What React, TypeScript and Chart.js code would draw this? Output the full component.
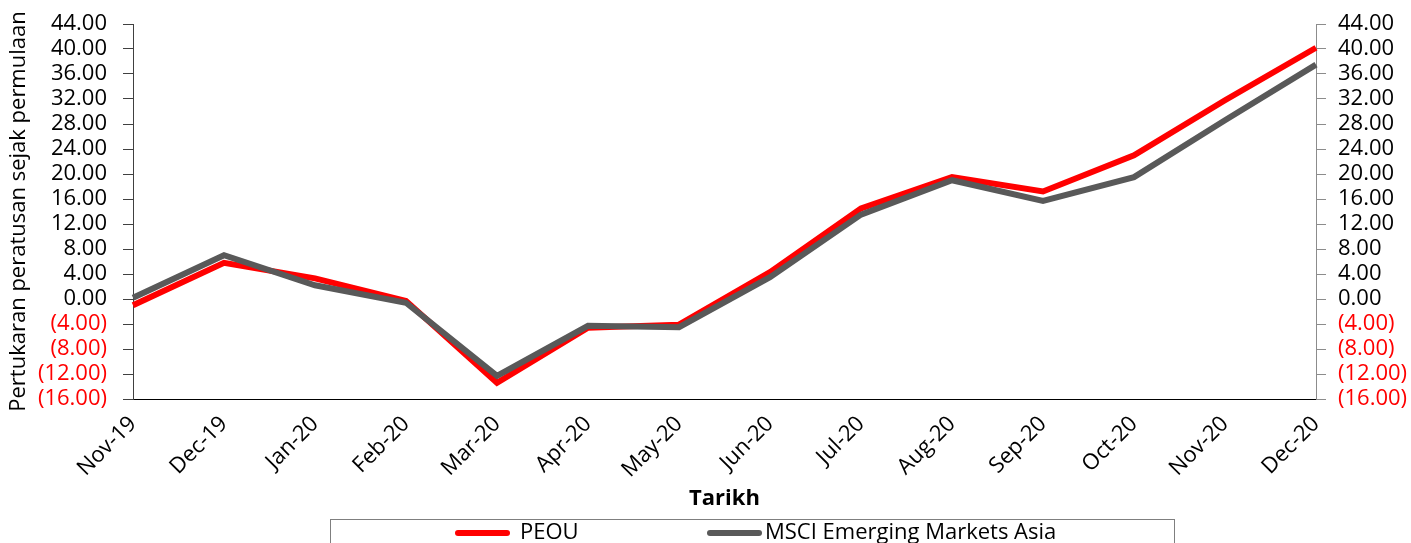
import { useEffect, useRef } from "react";
import { Chart, registerables } from "chart.js";

Chart.register(...registerables);

const categories = ["Nov-19", "Dec-19", "Jan-20", "Feb-20", "Mar-20", "Apr-20", "May-20", "Jun-20", "Jul-20", "Aug-20", "Sep-20", "Oct-20", "Nov-20", "Dec-20"];
const peou = [-1.0, 5.8, 3.3, -0.3, -13.4, -4.6, -4.1, 4.3, 14.5, 19.5, 17.2, 23.0, 31.8, 40.2];
const msci = [0.2, 7.0, 2.2, -0.6, -12.3, -4.3, -4.5, 3.5, 13.5, 19.0, 15.7, 19.5, 28.6, 37.5];
const seriesLabels = ["PEOU", "MSCI Emerging Markets Asia"];
const seriesColors = ["#ff0000", "#595959"];
const yMin = -16;
const yMax = 44;
const yStep = 4;
const xTitle = "Tarikh";
const yTitle = "Pertukaran peratusan sejak permulaan";

const FONT = "'Open Sans', sans-serif";

const fmt = (v: number | string) => {
  const n = Number(v);
  return n < 0 ? `(${Math.abs(n).toFixed(2)})` : n.toFixed(2);
};
const tickColor = (ctx: any) => (ctx.tick && ctx.tick.value < 0 ? "#ff0000" : "#000000");

const boxLegend = {
  id: "boxLegend",
  afterDraw(chart: any) {
    const ctx = chart.ctx as CanvasRenderingContext2D;
    ctx.save();
    ctx.strokeStyle = "#7f7f7f";
    ctx.lineWidth = 1;
    ctx.strokeRect(330.5, 519.5, 844, 60);
    ctx.font = `22px ${FONT}`;
    ctx.textBaseline = "middle";
    ctx.textAlign = "left";
    const starts = [455, 707];
    const gaps = [10, 3];
    chart.data.datasets.forEach((ds: any, i: number) => {
      const x = starts[i];
      const y = 533;
      ctx.strokeStyle = ds.borderColor;
      ctx.lineWidth = 6;
      ctx.lineCap = "round";
      ctx.beginPath();
      ctx.moveTo(x + 3, y);
      ctx.lineTo(x + 52, y);
      ctx.stroke();
      ctx.fillStyle = "#000";
      ctx.fillText(ds.label, x + 55 + gaps[i], y);
    });
    ctx.restore();
  },
};

export default function App() {
  const ref = useRef<HTMLCanvasElement>(null);
  useEffect(() => {
    document.body.style.margin = "0";
    const canvas = ref.current!;
    const font = { family: FONT, size: 22 };
    const fitY = (w: number) => (s: any) => {
      s.width = w;
      s.paddingTop = 0;
      s.paddingBottom = 0;
    };
    const chart = new Chart(canvas, {
      type: "line",
      data: {
        labels: categories,
        datasets: [
          { label: seriesLabels[0], data: peou, borderColor: seriesColors[0], backgroundColor: seriesColors[0], borderWidth: 6, pointRadius: 0, tension: 0, order: 1, clip: false, yAxisID: "y" },
          { label: seriesLabels[1], data: msci, borderColor: seriesColors[1], backgroundColor: seriesColors[1], borderWidth: 6, pointRadius: 0, tension: 0, order: 0, clip: false, yAxisID: "y" },
        ],
      },
      options: {
        responsive: false,
        animation: false,
        layout: { padding: { top: 24, bottom: 30, left: 0, right: 0 } },
        plugins: { legend: { display: false }, tooltip: { enabled: false } },
        scales: {
          x: {
            grid: { display: false },
            border: { display: true, color: "#000000", width: 1 },
            ticks: { color: "#000000", font, minRotation: 45, maxRotation: 45, autoSkip: false, padding: 4 },
            title: { display: true, text: xTitle, color: "#000000", font: { ...font, weight: "bold" }, padding: { top: 0, bottom: 1 } },
            afterFit: (s: any) => { s.height = 114; },
          },
          y: {
            position: "left",
            min: yMin,
            max: yMax,
            ticks: { stepSize: yStep, autoSkip: false, callback: fmt, color: tickColor, font, padding: 16 },
            grid: { drawOnChartArea: false, drawTicks: true, tickLength: 10, color: "#404040" },
            border: { display: true, color: "#404040" },
            title: { display: true, text: yTitle, color: "#000000", font, padding: { top: 6, bottom: 0 } },
            afterFit: fitY(133),
          },
          y1: {
            position: "right",
            min: yMin,
            max: yMax,
            ticks: { stepSize: yStep, autoSkip: false, callback: fmt, color: tickColor, font, padding: 12 },
            grid: { drawOnChartArea: false, drawTicks: true, tickLength: 10, color: "#8c8c8c" },
            border: { display: true, color: "#8c8c8c" },
            afterFit: fitY(95),
          },
        },
      } as any,
      plugins: [boxLegend],
    });
    return () => chart.destroy();
  }, []);
  return (
    <div style={{ width: 1411, height: 543, overflow: "hidden" }}>
      <canvas ref={ref} width={1411} height={543} style={{ display: "block" }} />
    </div>
  );
}
